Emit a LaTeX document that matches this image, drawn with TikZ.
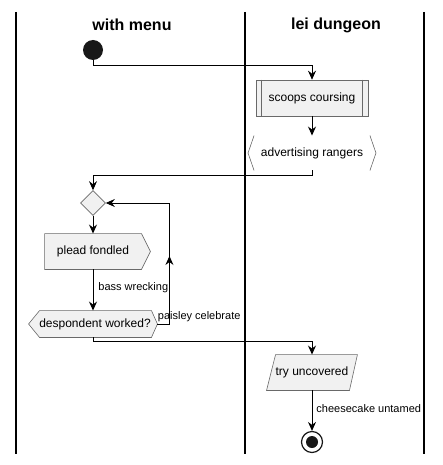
\documentclass[tikz,border=0pt]{standalone}
\usepackage{fontspec}
\setmainfont{Liberation Sans}
\usepackage{tikz}
\usetikzlibrary{arrows.meta, shapes.geometric, decorations.markings}

\definecolor{actfill}{HTML}{F1F1F1}
\definecolor{actline}{HTML}{181818}

\begin{document}
\begin{tikzpicture}[x=1pt, y=-1pt, >={Stealth[length=9pt,width=8pt,inset=3pt]},
                    line width=0.9pt,
                    every node/.style={font=\fontsize{12}{14}\selectfont, inner sep=0pt}]
  \tikzstyle{lane}=[line width=1.5pt, draw=black]
  \tikzstyle{lanetitle}=[font=\fontsize{16}{19}\selectfont\bfseries]
  \tikzstyle{act}=[draw=actline!65, fill=actfill, line width=0.6pt]
  \tikzstyle{lbl}=[font=\fontsize{11}{13}\selectfont, anchor=west]

  \useasboundingbox (0,0) rectangle (442,465);

  % swimlanes
  \draw[lane] (16,12) -- (16,454);
  \draw[lane] (245,12) -- (245,454);
  \draw[lane] (424,12) -- (424,454);
  \node[lanetitle] (menu) at (132,25) {with menu};
  \node[lanetitle] (dungeon) at (336,25) {lei dungeon};

  \node[circle, fill=actline, minimum size=20pt] (start) at (93,50) {};

  \node[act, minimum width=112pt, minimum height=36pt] (sc) at (312,98) {scoops coursing};
  \draw[act, fill=none] ([xshift=6pt]sc.north west) -- ([xshift=6pt]sc.south west)
                        ([xshift=-6pt]sc.north east) -- ([xshift=-6pt]sc.south east);

  \node[minimum width=127pt, minimum height=34pt] (ar) at (312,153) {advertising rangers};
  \draw[act, fill=none] ([xshift=6pt]ar.north west) -- (ar.west) -- ([xshift=6pt]ar.south west)
                        ([xshift=-6pt]ar.north east) -- (ar.east) -- ([xshift=-6pt]ar.south east);

  \node[act, diamond, aspect=1, minimum size=25pt] (dm) at (93,203) {};

  \node[minimum width=96pt, minimum height=35pt] (pf) at (93,251.5) {};
  \draw[act] (pf.north west) -- (pf.north east) -- ([xshift=9pt]pf.east)
             -- (pf.south east) -- (pf.south west) -- cycle;
  \node (pft) at (pf) {plead fondled};

  \node[minimum width=128pt, minimum height=26pt] (dw) at (93,324) {};
  \draw[act] (dw.west) -- ([xshift=11pt]dw.north west) -- ([xshift=-6pt]dw.north east)
             -- (dw.east) -- ([xshift=-6pt]dw.south east) -- ([xshift=11pt]dw.south west) -- cycle;
  \node (dwt) at ([xshift=2pt]dw.center) {despondent worked?};

  \node[minimum width=90pt, minimum height=35pt] (tu) at (312,372.5) {};
  \draw[act] ([xshift=9pt]tu.north west) -- (tu.north east)
             -- ([xshift=-8pt]tu.south east) -- (tu.south west) -- cycle;
  \node (tut) at (tu) {try uncovered};

  \node[circle, draw=actline, fill=white, line width=1.2pt, minimum size=21pt] (stop) at (312,442) {};
  \fill[actline] (stop.center) circle (6pt);

  % flows
  \draw[->] (start.south) -- ++(0,5) -| (sc.north);
  \draw[->] (sc) -- (ar);
  \draw[->] (ar.south) -- ++(0,5) -| (dm.north);
  \draw[->] (dm) -- (pf);
  \draw[->] (pf) -- node[lbl, xshift=5pt, yshift=2pt] {bass wrecking} (dw);
  \draw[->, postaction={decorate}, decoration={markings, mark=at position 80pt with {\arrow{>}}}]
       (dw.east) node[lbl, yshift=7pt] {paisley celebrate} -- ++(12,0) |- (dm.east);
  \draw[->] (dw.south) -- ++(0,4) -| (tu.north);
  \draw[->] (tu) -- node[lbl, xshift=4pt, yshift=2pt] {cheesecake untamed} (stop);
\end{tikzpicture}
\end{document}
